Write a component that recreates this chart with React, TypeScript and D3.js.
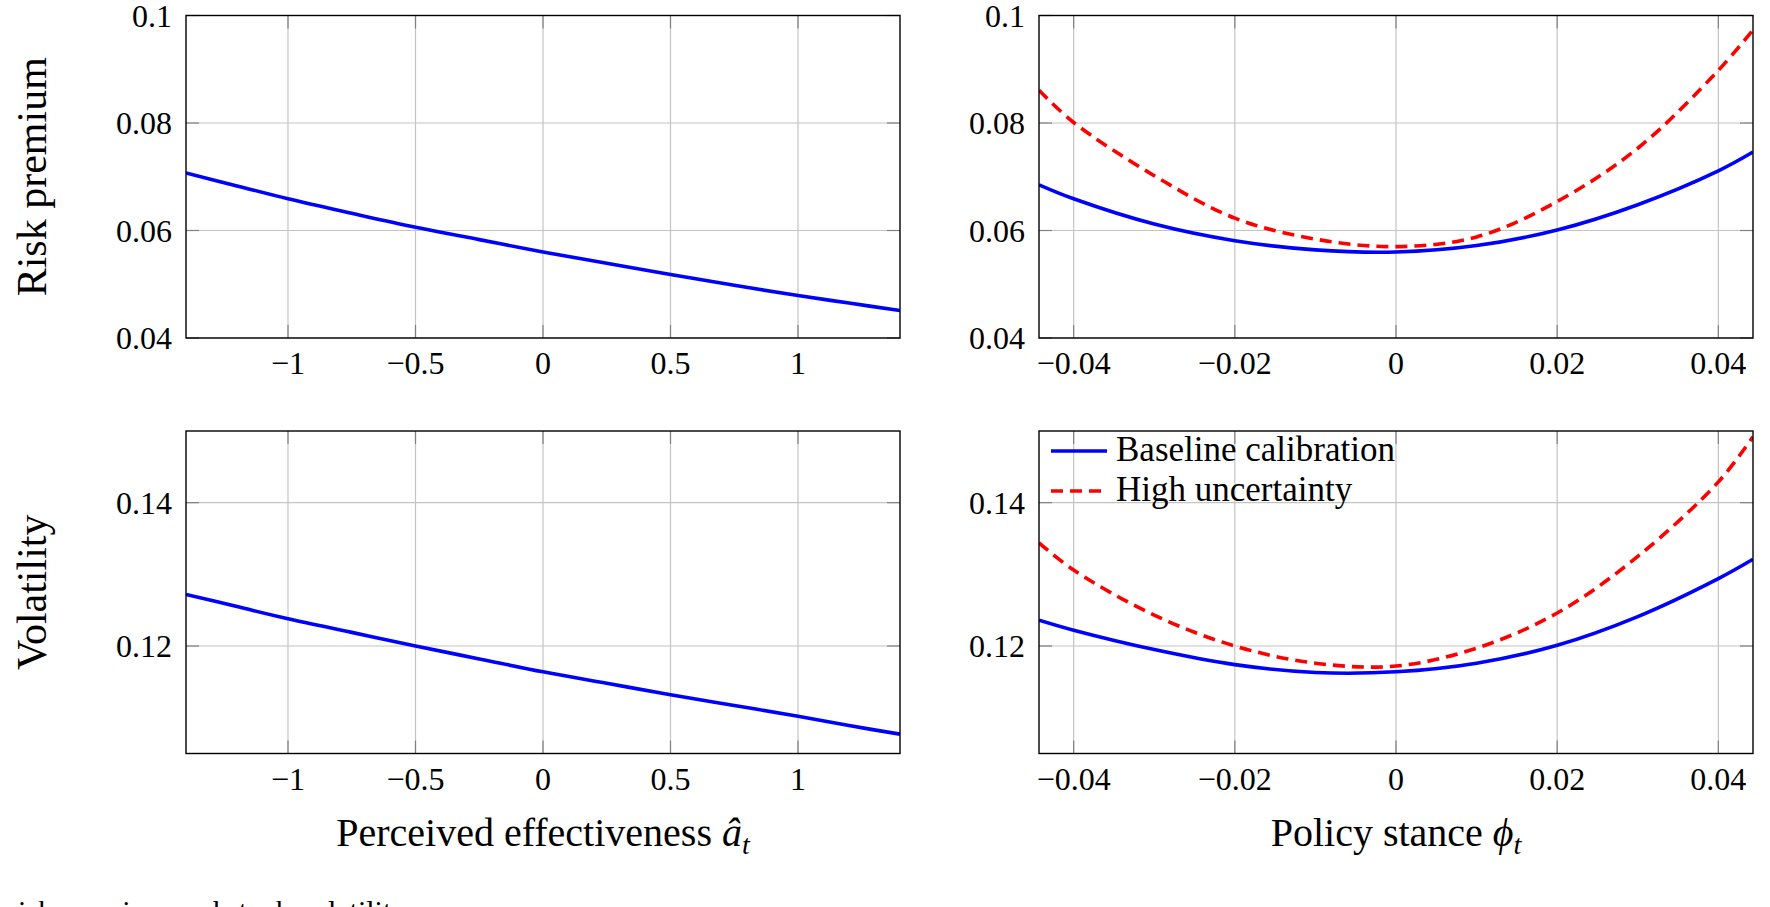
import { useEffect, useRef } from 'react';
import * as d3 from 'd3';

// perceived effectiveness grid (left column)
const effX = [-1.4, -1.2, -1, -0.75, -0.5, -0.25, 0, 0.25, 0.5, 0.75, 1, 1.2, 1.4];
const effPremium = [0.0707, 0.0683, 0.0659, 0.0632, 0.0606, 0.0583, 0.056, 0.0539, 0.0518, 0.0498, 0.0479, 0.0465, 0.0451];
const effVolatility = [0.1272, 0.1255, 0.1238, 0.1219, 0.12, 0.1182, 0.1164, 0.1148, 0.1132, 0.1117, 0.1102, 0.1089, 0.1077];

// policy stance grid (right column)
const stanceX = [-0.0443, -0.04, -0.03, -0.02, -0.01, 0, 0.01, 0.02, 0.03, 0.04, 0.0443];
const premiumBaseline = [0.0685, 0.0659, 0.0612, 0.0581, 0.0564, 0.056, 0.0572, 0.0601, 0.0648, 0.0711, 0.0746];
const premiumHigh = [0.0861, 0.0801, 0.0702, 0.0623, 0.0584, 0.057, 0.0588, 0.0654, 0.0753, 0.0898, 0.0973];
const volBaseline = [0.1236, 0.1222, 0.1195, 0.1174, 0.1163, 0.1164, 0.1176, 0.1201, 0.1241, 0.1294, 0.1321];
const volHigh = [0.1344, 0.1306, 0.1243, 0.12, 0.1176, 0.1172, 0.1197, 0.1246, 0.1325, 0.1429, 0.1492];

const effTicks = [-1, -0.5, 0, 0.5, 1];
const stanceTicks = [-0.04, -0.02, 0, 0.02, 0.04];
const premiumTicks = [0.04, 0.06, 0.08, 0.1];
const volTicks = [0.12, 0.14];

const seriesNames = ['Baseline calibration', 'High uncertainty'];

const FONT = '"Liberation Serif", "Times New Roman", "DejaVu Serif", serif';
const BLUE = '#0000ff';
const RED = '#ff0000';

const fmt = (d: number) => (d < 0 ? '\u2212' : '') + String(Math.abs(d));

type Series = { ys: number[]; color: string; dashed?: boolean };

export default function App() {
  const svgRef = useRef<SVGSVGElement>(null);

  useEffect(() => {
    if (!svgRef.current) return;
    const width = 1770;
    const height = 907;
    const svg = d3.select(svgRef.current).attr('width', width).attr('height', height);
    svg.selectAll('*').remove();
    svg.style('font-family', FONT);

    const colX = [186, 1039];
    const rowY = [15.5, 431];
    const pw = 714;
    const ph = 322.5;

    const drawPanel = (
      left: number,
      top: number,
      xs: number[],
      xDomain: [number, number],
      yDomain: [number, number],
      xTicks: number[],
      yTicks: number[],
      series: Series[]
    ) => {
      const x = d3.scaleLinear().domain(xDomain).range([left, left + pw]);
      const y = d3.scaleLinear().domain(yDomain).range([top + ph, top]);
      const g = svg.append('g');

      // grid
      g.selectAll('.vgrid').data(xTicks).join('line')
        .attr('x1', d => x(d)).attr('x2', d => x(d))
        .attr('y1', top).attr('y2', top + ph)
        .attr('stroke', '#c4c4c4').attr('stroke-width', 1.2);
      g.selectAll('.hgrid').data(yTicks).join('line')
        .attr('x1', left).attr('x2', left + pw)
        .attr('y1', d => y(d)).attr('y2', d => y(d))
        .attr('stroke', '#c4c4c4').attr('stroke-width', 1.2);

      // inward ticks on all sides
      const tl = 13;
      xTicks.forEach(t => {
        g.append('line').attr('x1', x(t)).attr('x2', x(t)).attr('y1', top + ph).attr('y2', top + ph - tl)
          .attr('stroke', '#808080').attr('stroke-width', 1.2);
        g.append('line').attr('x1', x(t)).attr('x2', x(t)).attr('y1', top).attr('y2', top + tl)
          .attr('stroke', '#808080').attr('stroke-width', 1.2);
      });
      yTicks.forEach(t => {
        g.append('line').attr('x1', left).attr('x2', left + tl).attr('y1', y(t)).attr('y2', y(t))
          .attr('stroke', '#808080').attr('stroke-width', 1.2);
        g.append('line').attr('x1', left + pw).attr('x2', left + pw - tl).attr('y1', y(t)).attr('y2', y(t))
          .attr('stroke', '#808080').attr('stroke-width', 1.2);
      });

      // curves
      const clipId = `clip-${left}-${Math.round(top)}`;
      svg.append('clipPath').attr('id', clipId).append('rect')
        .attr('x', left).attr('y', top).attr('width', pw).attr('height', ph);
      series.forEach(s => {
        const line = d3.line<number>()
          .x((_, i) => x(xs[i]))
          .y(d => y(d))
          .curve(d3.curveCatmullRom.alpha(0.5));
        g.append('path')
          .datum(s.ys)
          .attr('clip-path', `url(#${clipId})`)
          .attr('fill', 'none')
          .attr('stroke', s.color)
          .attr('stroke-width', 3.6)
          .attr('stroke-dasharray', s.dashed ? '12,7' : null)
          .attr('d', line);
      });

      // frame
      g.append('rect').attr('x', left).attr('y', top).attr('width', pw).attr('height', ph)
        .attr('fill', 'none').attr('stroke', '#000').attr('stroke-width', 1.4);

      // tick labels
      g.selectAll('.xl').data(xTicks).join('text')
        .attr('x', d => x(d)).attr('y', top + ph + 36)
        .attr('text-anchor', 'middle')
        .attr('font-size', 32)
        .text(d => fmt(d));
      g.selectAll('.yl').data(yTicks).join('text')
        .attr('x', left - 14).attr('y', d => y(d) + 11)
        .attr('text-anchor', 'end')
        .attr('font-size', 32)
        .text(d => fmt(d));

      return { x, y };
    };

    drawPanel(colX[0], rowY[0], effX, [-1.4, 1.4], [0.04, 0.1], effTicks, premiumTicks,
      [{ ys: effPremium, color: BLUE }]);
    drawPanel(colX[1], rowY[0], stanceX, [-0.0443, 0.0443], [0.04, 0.1], stanceTicks, premiumTicks,
      [{ ys: premiumHigh, color: RED, dashed: true }, { ys: premiumBaseline, color: BLUE }]);
    drawPanel(colX[0], rowY[1], effX, [-1.4, 1.4], [0.105, 0.15], effTicks, volTicks,
      [{ ys: effVolatility, color: BLUE }]);
    drawPanel(colX[1], rowY[1], stanceX, [-0.0443, 0.0443], [0.105, 0.15], stanceTicks, volTicks,
      [{ ys: volHigh, color: RED, dashed: true }, { ys: volBaseline, color: BLUE }]);

    // legend in lower right panel
    const lg = svg.append('g').attr('transform', `translate(${colX[1] + 12},${rowY[1] + 20})`);
    seriesNames.forEach((name, i) => {
      lg.append('line').attr('x1', 0).attr('x2', 56).attr('y1', i * 40).attr('y2', i * 40)
        .attr('stroke', i === 0 ? BLUE : RED).attr('stroke-width', 3.6)
        .attr('stroke-dasharray', i === 0 ? null : '12,7');
      lg.append('text').attr('x', 65).attr('y', i * 40 + 10)
        .attr('font-size', 35)
        .text(name);
    });

    // y-axis labels
    const yLabels = ['Risk premium', 'Volatility'];
    yLabels.forEach((lab, i) => {
      svg.append('text')
        .attr('transform', `translate(46,${rowY[i] + ph / 2}) rotate(-90)`)
        .attr('text-anchor', 'middle')
        .attr('font-size', 42)
        .text(lab);
    });

    // x-axis labels with math
    const xl1 = svg.append('text')
      .attr('x', colX[0] + pw / 2).attr('y', 846)
      .attr('text-anchor', 'middle')
      .attr('font-size', 40);
    xl1.append('tspan').text('Perceived effectiveness ');
    xl1.append('tspan').attr('font-style', 'italic').text('\u00e2');
    xl1.append('tspan').attr('font-style', 'italic').attr('font-size', 28).attr('dy', 8).text('t');

    const xl2 = svg.append('text')
      .attr('x', colX[1] + pw / 2).attr('y', 846)
      .attr('text-anchor', 'middle')
      .attr('font-size', 40);
    xl2.append('tspan').text('Policy stance ');
    xl2.append('tspan').attr('font-style', 'italic').text('\u03d5');
    xl2.append('tspan').attr('font-style', 'italic').attr('font-size', 28).attr('dy', 8).text('t');

    // caption cut off at the bottom of the page
    svg.append('text')
      .attr('x', 8).attr('y', 921)
      .attr('font-size', 30)
      .text('risk premium and stock volatility');
  }, []);

  return (
    <svg
      ref={svgRef}
      style={{ position: 'absolute', left: 0, top: 0, display: 'block', background: '#fff' }}
    />
  );
}
